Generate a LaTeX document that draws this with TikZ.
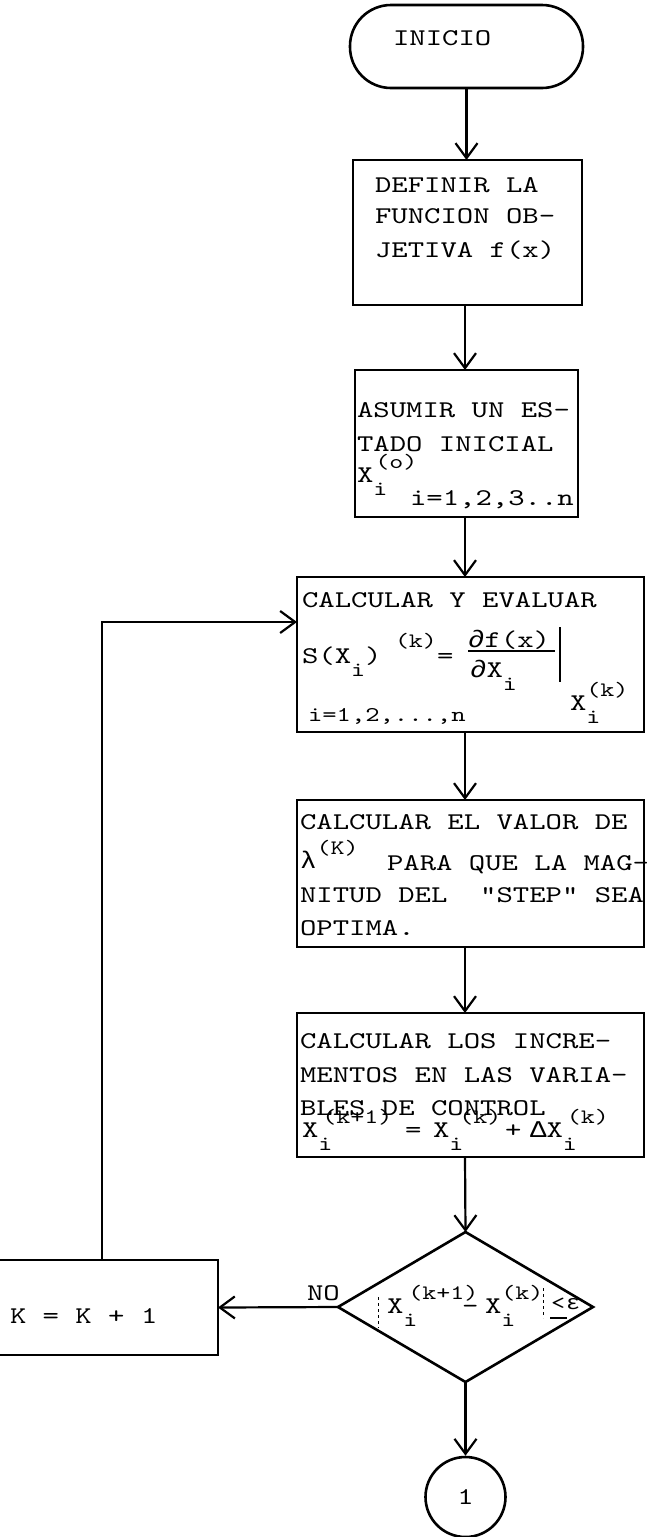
\documentclass[tikz,border=0pt]{standalone}
\usepackage{fontspec}
\newfontfamily\ttf{lmmono10-regular.otf}[FakeStretch=1.3]
\newfontfamily\gk{Liberation Mono}[FakeStretch=1.15]
\usetikzlibrary{arrows.meta,shapes.geometric}
\newcommand\fsm{\ttf\fontsize{24}{24}\selectfont}
\newcommand\fsn{\ttf\fontsize{21}{21}\selectfont}
\newcommand\fss{\ttf\fontsize{20.5}{20.5}\selectfont}
\newcommand\mysub[1]{\raisebox{-13pt}{\fss #1}}
\newcommand\mysup[1]{\raisebox{14pt}{\fss #1}}
\begin{document}
\begin{tikzpicture}[x=1pt,y=-1pt,
  tx/.style={anchor=base west,inner sep=0pt,outer sep=0pt,font=\fsm},
  sx/.style={anchor=base west,inner sep=0pt,outer sep=0pt,font=\fss},
  box/.style={draw,line width=2.6pt,inner sep=0pt,outer sep=0pt},
  arr/.style={line width=2.2pt,-{Straight Barb[length=15pt,width=22pt]}},
  thinln/.style={line width=1.4pt}]
\useasboundingbox (0,0) rectangle (646,1537);
\coordinate (col) at (465,0);
% start
\node[box,rounded corners=41pt,minimum width=233pt,minimum height=83pt] (start) at (466.5,46.5) {};
\node[tx] (tstart) at (393,45) {INICIO};
% box 1
\node[box,minimum width=229pt,minimum height=145pt] (b1) at (467.5,232.5) {};
\node[tx] (t11) at (375,192) {DEFINIR LA};
\node[tx] (t12) at (375,223) {FUNCION OB-};
\node[tx] (t13) at (375,257) {JETIVA f(x)};
% box 2
\node[box,minimum width=223pt,minimum height=147pt] (b2) at (466.5,443.5) {};
\node[tx] (t21) at (357,417) {ASUMIR UN ES-};
\node[tx] (t22) at (357,451) {TADO INICIAL};
\node[tx] (t23) at (357,482) {X\rlap{\mysub{i}}\hspace{2pt}\mysup{(o)}};
\node[tx] (t24) at (410,505) {i=1,2,3..n};
% box 3
\node[box,minimum width=347pt,minimum height=155pt] (b3) at (470.5,654.5) {};
\node[tx] (t31) at (302,607) {CALCULAR Y EVALUAR};
\node[tx] (t32) at (302,663) {S(X\mysub{i})};
\node[sx] (t33) at (395,647) {(k)};
\node[tx] (t34) at (437,663) {=};
\node[tx] (t35) at (468,647) {{\gk ∂}f(x)};
\draw[thinln] (468,651) -- (555,651);
\node[tx] (t36) at (470,677) {{\gk ∂}X\mysub{i}};
\draw[thinln] (560,627) -- (560,682);
\node[tx] (t37) at (570,710) {X\rlap{\mysub{i}}\mysup{(k)}};
\node[tx,font=\fsn] (t38) at (308,721) {i=1,2,...,n};
% box 4
\node[box,minimum width=347pt,minimum height=147pt] (b4) at (470.5,873.5) {};
\node[tx] (t41) at (300,829) {CALCULAR EL VALOR DE};
\node[tx] (t42) at (300,868) {{\gk λ}\mysup{(K)}};
\node[tx] (t43) at (387,870) {PARA QUE LA MAG-};
\node[tx] (t44) at (300,902) {NITUD DEL\ \ "STEP" SEA};
\node[tx] (t45) at (300,935) {OPTIMA.};
% box 5
\node[box,minimum width=347pt,minimum height=144pt] (b5) at (470.5,1085) {};
\node[tx] (t51) at (300,1048) {CALCULAR LOS INCRE-};
\node[tx] (t52) at (300,1082) {MENTOS EN LAS VARIA-};
\node[tx] (t53) at (300,1115) {BLES DE CONTROL};
\node[tx] (t54) at (302,1137) {X\rlap{\mysub{i}}\hspace{4pt}\mysup{(k+1)}};
\node[tx] (t55) at (405,1137) {=};
\node[tx] (t56) at (433,1137) {X\rlap{\mysub{i}}\hspace{10pt}\mysup{(k)}};
\node[tx] (t57) at (505,1137) {+};
\node[tx] (t58) at (530,1137) {{\gk Δ}X\rlap{\mysub{i}}\hspace{4pt}\mysup{(k)}};
% decision
\node[box,diamond,minimum width=255pt,minimum height=150pt] (dia) at (465.5,1307) {};
\node[tx] (t61) at (387,1313) {X\rlap{\mysub{i}}\hspace{5pt}\mysup{(k+1)}};
\node[tx] (t62) at (462,1313) {-};
\node[tx] (t63) at (485,1313) {X\rlap{\mysub{i}}\mysup{(k)}};
\draw[line width=0.9pt,dashed] (378,1297) -- (378,1328);
\draw[line width=0.9pt,dashed] (543,1288) -- (543,1318);
\node[sx] (t64) at (551,1309) {<};
\node[sx] (t65) at (566,1309) {{\gk ε}};
\draw[line width=1.2pt] (550,1318) -- (567,1318);
% K box
\node[box,minimum width=232pt,minimum height=95pt] (kb) at (102,1307.5) {};
\node[tx] (tk) at (10,1323) {K = K + 1};
\node[tx] (tno) at (307,1300) {NO};
% connector circle
\node[draw,circle,line width=2.6pt,minimum size=80pt,inner sep=0pt,font=\fsm] (c1) at (465.5,1497) {1};
% arrows
\draw[arr] (start.south) -- (start.south |- b1.north);
\draw[arr] (b1.south -| col) -- (b2.north -| col);
\draw[arr] (b2.south -| col) -- (b3.north -| col);
\draw[arr] (b3.south -| col) -- (b4.north -| col);
\draw[arr] (b4.south -| col) -- (b5.north -| col);
\draw[arr] (b5.south -| col) -- (dia.north);
\draw[arr] (dia.south) -- (c1.north);
\draw[arr] (dia.west) -- (kb.east);
\coordinate (fb) at (102,622);
\draw[arr] (kb.north) -- (fb) -- (b3.west |- fb);
\end{tikzpicture}
\end{document}
